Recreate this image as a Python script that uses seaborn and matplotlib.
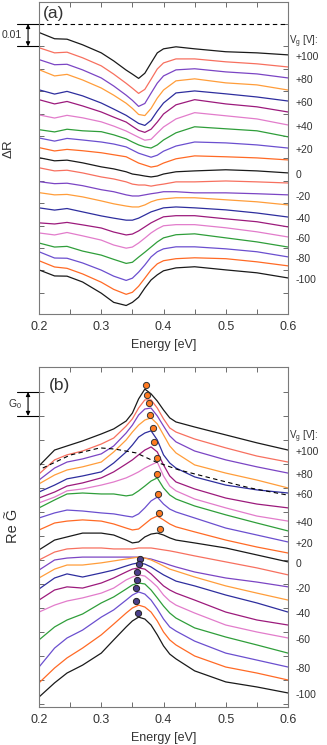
import numpy as np
import pandas as pd
import matplotlib
matplotlib.use("Agg")
import matplotlib.pyplot as plt
import matplotlib.transforms as mtransforms
import seaborn as sns

# ---------------- data ----------------
gate_voltages = [100, 90, 80, 70, 60, 50, 40, 30, 20, 10, 0,
                 -10, -20, -30, -40, -50, -60, -70, -80, -90, -100]
label_voltages = [100, 80, 60, 40, 20, 0, -20, -40, -60, -80, -100]

# panel (a): Delta R (units of 1e-3), stacked with offsets
energy_a = [0.20, 0.225, 0.245, 0.27, 0.30, 0.32, 0.34, 0.35, 0.36, 0.37,
            0.38, 0.39, 0.40, 0.42, 0.45, 0.50, 0.55, 0.60]
dR_offsets = [-13.8, -19.2, -24.1, -29.5, -34.4, -39.3, -45.1, -50.4, -55.4, -60.7,
              -66.5, -71.0, -76.3, -80.8, -86.2, -90.6, -95.1, -99.6, -104.0, -108.0, -113.4]
dR_shapes = [
    [10.0, 7.2, 7.0, 4.5, 0.9, -2.7, -6.8, -8.6, -10.5, -8.2, -3.6, 0.9, 2.7, 3.6, 2.7, 1.4, 0.9, 0],
    [8.6, 6.3, 6.6, 4.1, 0.5, -3.2, -7.3, -9.5, -11.8, -10.0, -5.5, -0.9, 1.8, 3.6, 3.6, 2.3, 1.4, 0],
    [8.2, 5.9, 6.1, 3.6, 0.0, -3.6, -7.7, -10.0, -12.7, -11.4, -6.8, -2.3, 0.9, 3.6, 4.1, 2.7, 1.8, 0],
    [9.1, 6.3, 7.0, 4.5, 0.9, -2.3, -5.9, -8.2, -10.9, -11.4, -8.2, -3.6, 0.0, 4.1, 5.0, 3.2, 2.3, 0],
    [5.0, 3.1, 4.3, 2.3, -0.9, -3.6, -6.4, -8.2, -10.0, -10.9, -8.6, -4.5, -0.9, 3.6, 4.5, 3.2, 1.8, 0],
    [5.5, 3.6, 4.7, 2.7, 0.0, -2.3, -4.5, -6.4, -8.2, -9.1, -7.7, -4.5, -0.9, 3.2, 5.5, 3.6, 2.3, 0],
    [4.5, 3.1, 4.3, 3.2, 1.4, -0.5, -2.7, -4.1, -5.5, -6.8, -6.4, -3.6, -0.9, 2.7, 5.5, 4.1, 2.7, 0],
    [3.2, 2.2, 3.4, 2.7, 2.3, 0.9, -0.9, -2.3, -3.6, -4.5, -5.0, -3.6, -1.4, 1.8, 4.5, 3.6, 2.7, 0],
    [4.5, 3.1, 4.3, 3.6, 2.7, 1.8, 0.5, -0.9, -2.3, -3.2, -4.1, -3.2, -1.4, 0.9, 2.7, 2.3, 1.4, 0],
    [5.5, 4.0, 4.7, 4.1, 3.2, 2.3, 1.4, 0.0, -1.4, -2.3, -3.2, -2.7, -1.4, 0.5, 1.8, 1.4, 0.9, 0],
    [6.8, 5.4, 5.7, 4.5, 2.7, 1.8, 0.5, -0.5, -0.9, -1.4, -1.8, -1.4, -0.5, 0.5, 0.9, 1.4, 0.9, 0],
    [6.8, 5.4, 5.7, 4.5, 2.7, 1.8, 0.5, -0.5, -0.9, -0.9, -1.4, -0.9, -0.5, 0.5, 0.5, 0.9, 0.5, 0],
    [5.9, 5.0, 5.2, 4.1, 2.3, 1.4, 0.0, -0.5, -0.5, 0.0, 0.5, 0.9, 1.4, 1.4, 0.9, 0.9, 0.5, 0],
    [5.5, 4.5, 4.7, 3.6, 1.8, 0.5, -0.5, -0.9, -0.9, 0.0, 1.4, 2.3, 2.7, 3.2, 3.2, 2.3, 1.4, 0],
    [4.1, 3.1, 3.8, 2.3, 0.5, -0.5, -1.4, -1.4, -0.5, 0.9, 2.3, 3.2, 4.1, 4.5, 4.1, 3.2, 1.8, 0],
    [1.8, 1.3, 2.0, 0.9, -0.5, -2.3, -3.6, -3.2, -1.8, 0.0, 1.8, 3.2, 4.5, 5.0, 5.0, 3.6, 2.3, 0],
    [1.8, 0.9, 2.0, 0.5, -1.4, -3.6, -5.0, -4.5, -2.7, -0.5, 1.8, 3.6, 5.0, 5.5, 5.5, 4.1, 2.3, 0],
    [1.8, 0.0, 0.3, -1.8, -3.6, -5.5, -7.3, -6.8, -4.5, -2.3, 0.0, 2.3, 4.1, 5.5, 5.9, 4.1, 2.3, 0],
    [2.3, -0.5, -0.6, -2.7, -5.9, -8.6, -10.5, -9.5, -6.8, -3.6, 0.0, 2.3, 3.6, 4.5, 4.5, 3.6, 2.3, 0],
    [2.3, -0.5, -1.1, -3.6, -7.3, -10.5, -12.7, -11.8, -9.1, -5.5, -1.8, 0.9, 2.3, 3.2, 3.6, 3.2, 1.8, 0],
    [3.6, 0.9, 0.8, -1.8, -6.8, -10.9, -12.3, -10.9, -8.6, -4.5, -0.9, 1.4, 3.2, 4.5, 5.0, 3.6, 2.3, 0],
]

# panel (b): Re G~ (units of G0), stacked
energy_b = [0.20, 0.225, 0.245, 0.27, 0.30, 0.32, 0.34, 0.35, 0.36, 0.37,
            0.38, 0.39, 0.40, 0.41, 0.42, 0.45, 0.50, 0.55, 0.60]
reG = [
    [-3.08, -2.42, -2.25, -2.04, -1.75, -1.54, -1.21, -0.88, -0.29, 0.12, -0.08, -0.38, -0.75, -1.08, -1.25, -1.46, -1.79, -2.12, -2.42],
    [-3.42, -2.83, -2.62, -2.46, -2.17, -1.92, -1.42, -1.12, -0.67, -0.33, -0.33, -0.67, -1.12, -1.50, -1.67, -1.96, -2.33, -2.67, -2.92],
    [-3.67, -3.17, -2.92, -2.79, -2.58, -2.25, -1.71, -1.38, -0.96, -0.71, -0.67, -1.00, -1.42, -1.83, -2.08, -2.46, -2.83, -3.12, -3.38],
    [-3.83, -3.46, -3.25, -3.12, -2.92, -2.50, -2.00, -1.67, -1.38, -1.17, -1.08, -1.33, -1.79, -2.25, -2.54, -3.04, -3.38, -3.67, -4.00],
    [-4.17, -3.88, -3.62, -3.50, -3.33, -2.96, -2.50, -2.21, -1.88, -1.71, -1.62, -2.00, -2.62, -2.96, -3.17, -3.54, -3.88, -4.08, -4.21],
    [-4.42, -4.17, -3.92, -3.79, -3.58, -3.33, -3.00, -2.83, -2.62, -2.42, -2.29, -2.50, -3.04, -3.50, -3.75, -4.04, -4.42, -4.67, -4.83],
    [-4.62, -4.38, -4.12, -4.04, -3.88, -3.75, -3.58, -3.46, -3.33, -3.17, -3.04, -2.92, -3.50, -3.92, -4.12, -4.46, -4.83, -5.17, -5.38],
    [-4.83, -4.50, -4.25, -4.21, -4.25, -4.25, -4.33, -4.29, -4.12, -3.92, -3.71, -3.58, -4.00, -4.29, -4.46, -4.75, -5.12, -5.46, -5.79],
    [-5.25, -5.04, -4.92, -4.96, -5.04, -5.08, -5.17, -5.21, -5.08, -4.83, -4.54, -4.38, -4.67, -4.88, -5.00, -5.25, -5.67, -5.96, -6.25],
    [-5.75, -5.46, -5.38, -5.33, -5.38, -5.50, -5.67, -5.75, -5.71, -5.50, -5.29, -5.17, -5.33, -5.50, -5.62, -5.83, -6.17, -6.46, -6.71],
    [-6.58, -6.17, -6.04, -5.88, -5.88, -5.96, -6.17, -6.29, -6.25, -6.04, -5.92, -5.88, -5.96, -6.08, -6.17, -6.29, -6.50, -6.79, -7.08],
    [-7.00, -6.67, -6.54, -6.50, -6.50, -6.54, -6.54, -6.54, -6.50, -6.50, -6.50, -6.54, -6.58, -6.62, -6.67, -6.83, -7.08, -7.33, -7.62],
    [-7.42, -7.00, -6.92, -6.88, -6.88, -6.88, -6.88, -6.88, -6.88, -6.92, -6.96, -7.04, -7.12, -7.21, -7.29, -7.50, -7.75, -7.92, -8.12],
    [-7.75, -7.38, -7.21, -7.21, -7.12, -7.04, -6.96, -6.92, -6.88, -6.92, -7.00, -7.12, -7.25, -7.38, -7.46, -7.71, -8.08, -8.38, -8.67],
    [-8.21, -7.75, -7.58, -7.71, -7.54, -7.42, -7.25, -7.17, -7.12, -7.17, -7.29, -7.46, -7.62, -7.75, -7.88, -8.08, -8.46, -8.79, -9.17],
    [-8.67, -8.25, -8.12, -8.17, -7.96, -7.75, -7.50, -7.38, -7.33, -7.38, -7.58, -7.83, -8.08, -8.25, -8.38, -8.67, -9.17, -9.50, -9.71],
    [-9.17, -8.88, -8.71, -8.58, -8.38, -8.17, -7.83, -7.71, -7.62, -7.67, -7.88, -8.12, -8.46, -8.71, -8.88, -9.21, -9.71, -10.00, -10.25],
    [-10.33, -9.79, -9.50, -9.25, -8.79, -8.54, -8.21, -8.04, -7.96, -8.00, -8.25, -8.58, -8.92, -9.21, -9.42, -9.83, -10.21, -10.54, -10.88],
    [-11.46, -10.67, -10.25, -9.92, -9.38, -9.08, -8.67, -8.46, -8.33, -8.42, -8.67, -9.04, -9.46, -9.79, -9.96, -10.38, -10.88, -11.17, -11.46],
    [-12.12, -11.50, -11.08, -10.67, -10.12, -9.67, -9.21, -9.00, -8.88, -8.96, -9.17, -9.54, -10.00, -10.33, -10.54, -11.00, -11.46, -11.71, -12.00],
    [-12.71, -12.12, -11.71, -11.38, -10.88, -10.33, -9.79, -9.54, -9.38, -9.46, -9.71, -10.12, -10.58, -10.92, -11.12, -11.62, -12.08, -12.29, -12.54],
]

# resonance peak markers (panel b)
peak_E_pos = [0.372, 0.374, 0.377, 0.379, 0.383, 0.385, 0.389, 0.389, 0.391, 0.392, 0.394]
peak_G_pos = [0.29, -0.12, -0.46, -0.96, -1.50, -2.08, -2.75, -3.42, -4.25, -5.04, -5.71]
peak_E_neg = [0.363, 0.361, 0.358, 0.358, 0.355, 0.356, 0.359]
peak_G_neg = [-6.96, -7.17, -7.50, -7.83, -8.17, -8.71, -9.21]

# dashed guide (panel b)
dash_E = [0.206, 0.25, 0.298, 0.322, 0.356, 0.388, 0.425, 0.475, 0.539, 0.598]
dash_G = [-3.17, -2.63, -2.33, -2.38, -2.54, -2.92, -3.25, -3.58, -4.00, -4.29]

palette10 = ["#1a1a1a", "#f7705f", "#7b45c4", "#ff9d3a", "#2e2e9e",
             "#9c1a7c", "#e27ccb", "#2f9e3a", "#6b4fcf", "#ff6a25"]
colors21 = [palette10[i % 10] for i in range(len(gate_voltages))]

# ---------------- style ----------------
sns.set_style("ticks")
plt.rcParams["font.family"] = ["Liberation Sans", "DejaVu Sans"]
plt.rcParams["mathtext.fontset"] = "custom"
plt.rcParams["mathtext.rm"] = "Liberation Sans"
plt.rcParams["mathtext.it"] = "Liberation Sans:italic"
plt.rcParams["mathtext.sf"] = "Liberation Sans"
TXT = "#333333"

fig = plt.figure(figsize=(3.27, 7.45), dpi=100)
ax_a = fig.add_axes([0.1193, 0.5785, 0.7615, 0.4188])
ax_b = fig.add_axes([0.1193, 0.0510, 0.7615, 0.4564])

# long-form tables
rows = []
for vg, off, shp in zip(gate_voltages, dR_offsets, dR_shapes):
    for e, s in zip(energy_a, shp):
        rows.append({"E": e, "val": s + off, "Vg": str(vg)})
df_a = pd.DataFrame(rows)
rows = []
for vg, vals in zip(gate_voltages, reG):
    for e, v in zip(energy_b, vals):
        rows.append({"E": e, "val": v, "Vg": str(vg)})
df_b = pd.DataFrame(rows)
hue_order = [str(v) for v in gate_voltages]

for ax, df in ((ax_a, df_a), (ax_b, df_b)):
    sns.lineplot(data=df, x="E", y="val", hue="Vg", hue_order=hue_order,
                 palette=colors21, estimator=None, sort=False, legend=False,
                 lw=0.9, ax=ax)

# panel (a) extras
ax_a.axhline(0, color="k", lw=0.8, ls=(0, (4, 3)))
# panel (b) extras
sns.lineplot(x=dash_E, y=dash_G, color="k", lw=0.8, ax=ax_b, linestyle=(0, (4, 3)))
sns.scatterplot(x=peak_E_pos, y=peak_G_pos, color="#ff7a20", edgecolor="#333333",
                linewidth=0.7, s=20, ax=ax_b, zorder=5)
sns.scatterplot(x=peak_E_neg, y=peak_G_neg, color="#4a3f8a", edgecolor="#222222",
                linewidth=0.7, s=20, ax=ax_b, zorder=5)

ax_a.set_ylim(-129.5, 9.8)
ax_b.set_ylim(-13.125, 1.04)
ax_a.set_yticks(np.arange(-120, 1, 10))
ax_b.set_yticks(np.arange(-13, 1, 1))

for ax in (ax_a, ax_b):
    ax.set_xlim(0.2, 0.6)
    ax.set_xticks([0.2, 0.3, 0.4, 0.5, 0.6])
    ax.set_xticks(np.arange(0.2, 0.601, 0.05), minor=True)
    ax.set_xticklabels(["0.2", "0.3", "0.4", "0.5", "0.6"])
    ax.set_yticklabels([])
    ax.tick_params(which="both", direction="in", top=True, right=True,
                   length=3.5, width=0.6, color="#555555", labelsize=9,
                   labelcolor=TXT, pad=5)
    for sp in ax.spines.values():
        sp.set_color("#7a7a7a")
        sp.set_linewidth(0.8)
    ax.set_xlabel("Energy [eV]", fontsize=9, color=TXT, labelpad=4)

ax_a.set_ylabel(r"$\Delta$R", fontsize=9.5, color=TXT)
ax_a.yaxis.set_label_coords(-0.095, 0.53)
ax_b.set_ylabel("")

# "Re G~" label for panel (b): text plus a separate tilde over the G
lab_b = fig.text(0.040, 0.294, "Re G", rotation=90, ha="center", va="center",
                 fontsize=10.5, color=TXT)
fig.canvas.draw()
bb = lab_b.get_window_extent(renderer=fig.canvas.get_renderer())
g_w = bb.height * 0.32
fig.text((bb.x0 - 1.0) / fig.bbox.width, (bb.y1 - g_w / 2) / fig.bbox.height,
         "~", rotation=90, ha="center", va="center", fontsize=9, color=TXT)

ax_a.text(0.015, 0.962, "(a)", transform=ax_a.transAxes, fontsize=12.5,
          va="center", ha="left", color=TXT)
ax_b.text(0.04, 0.947, "(b)", transform=ax_b.transAxes, fontsize=12.5,
          va="center", ha="left", color=TXT)

# scale bars
def scale_bar(ax, y0, y1, label):
    tr = mtransforms.blended_transform_factory(ax.transAxes, ax.transData)
    for yy in (y0, y1):
        ax.plot([-0.088, 0.0], [yy, yy], transform=tr, color="k", lw=0.8,
                clip_on=False)
    ax.annotate("", xy=(-0.044, y0), xytext=(-0.044, y1), xycoords=tr,
                textcoords=tr,
                arrowprops=dict(arrowstyle="<|-|>", color="k", lw=0.8,
                                shrinkA=0, shrinkB=0, mutation_scale=6))
    ax.text(-0.068, (y0 + y1) / 2, label, transform=tr, ha="right",
            va="center", fontsize=7.5, color=TXT)

scale_bar(ax_a, 0, -10, "0.01")
scale_bar(ax_b, 0, -1, r"G$_\mathregular{0}$")

# right-hand gate-voltage labels, aligned with curve ends
def vg_labels(ax, ends, header_y, dy):
    tr = mtransforms.blended_transform_factory(ax.transAxes, ax.transData)
    ax.text(1.004, header_y, r"V$_\mathregular{g}$ [V]:", transform=tr,
            ha="left", va="center", fontsize=7, color=TXT)
    for v in label_voltages:
        i = gate_voltages.index(v)
        txt = f"+{v}" if v > 0 else str(v)
        ax.text(1.032, ends[i] + dy, txt, transform=tr, ha="left",
                va="center", fontsize=7.5, color=TXT)

ends_a = [off + shp[-1] for off, shp in zip(dR_offsets, dR_shapes)]
ends_b = [vals[-1] for vals in reG]
vg_labels(ax_a, ends_a, -8.0, -0.8)
vg_labels(ax_b, ends_b, -1.88, -0.1)

fig.savefig("out.png", dpi=100)
